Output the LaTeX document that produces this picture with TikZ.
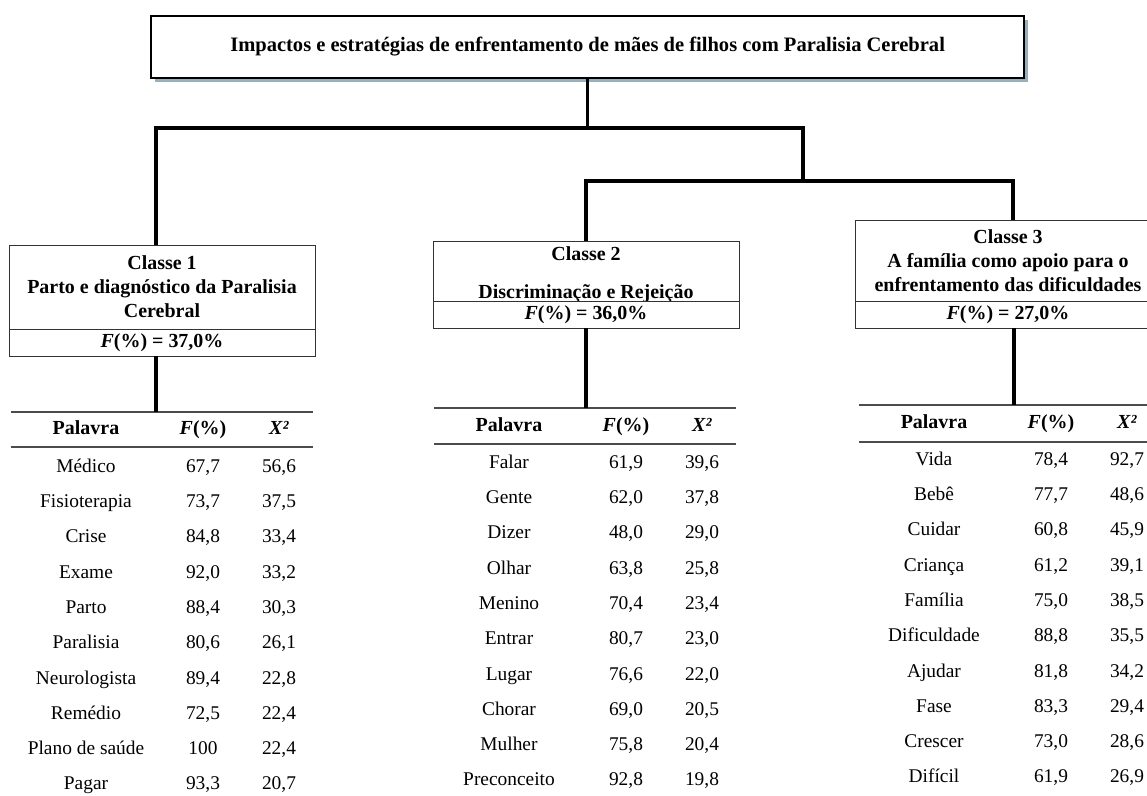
\documentclass[tikz,border=0pt]{standalone}
\usepackage{fontspec}
\setmainfont{Liberation Serif}
\usepackage{tikz}
\usepackage{xcolor}
\usetikzlibrary{positioning}
\usetikzlibrary{shadows}
\definecolor{shadowgray}{HTML}{9BAFBB}
\tikzstyle{titlebox} = [rectangle, minimum width=21.83cm, minimum height=1.55cm, text centered, draw=black, line width=1.3pt, fill=white, font=\bfseries\fontsize{14.6}{17}\selectfont, drop shadow={shadow xshift=0.1cm, shadow yshift=-0.1cm, fill=shadowgray, opacity=1}]
\tikzstyle{classbox} = [rectangle, minimum width=7.65cm, inner ysep=0pt, outer sep=0pt, align=center, draw=black!80, line width=0.7pt, fill=white, font=\bfseries\fontsize{14.2}{17}\selectfont]
\tikzstyle{freqbox} = [rectangle, minimum width=7.65cm, minimum height=0.675cm, inner ysep=0pt, outer sep=0pt, text centered, draw=black!80, line width=0.7pt, fill=white, font=\bfseries\fontsize{14.2}{17}\selectfont]
\tikzstyle{head} = [text height=1.6ex, text depth=.3ex, font=\bfseries\fontsize{14.2}{17}\selectfont]
\tikzstyle{cell} = [text height=1.6ex, text depth=.3ex, font=\fontsize{13.8}{16}\selectfont]
\tikzstyle{rule} = [draw=black!70, line width=1pt]
\tikzstyle{link} = [line width=2.6pt]

\begin{document}
\begin{tikzpicture}[node distance=1cm]
        \useasboundingbox (0,0) rectangle (28.675,-19.9);

        \node (title) [titlebox] at (14.69,-1.175) {Impactos e estratégias de enfrentamento de mães de filhos com Paralisia Cerebral};
        \node (c1) [classbox, minimum height=2.1cm, below of=title, xshift=-10.64cm, yshift=-5cm] {Classe 1\\Parto e diagnóstico da Paralisia\\Cerebral};
        \node (c2) [classbox, minimum height=1.5cm, below of=title, xshift=-0.04cm, yshift=-4.6cm] {\smash{\raisebox{-19.5pt}{\begin{tabular}[b]{c}Classe 2\\[10pt]Discriminação e Rejeição\end{tabular}}}};
        \node (c3) [classbox, minimum height=2.025cm, below of=title, xshift=10.51cm, yshift=-4.3375cm] {Classe 3\\A família como apoio para o\\enfrentamento das dificuldades};
        \node (f1) [freqbox, below=0cm of c1] {\textit{F}(\%) = 37,0\%};
        \node (f2) [freqbox, below=0cm of c2] {\textit{F}(\%) = 36,0\%};
        \node (f3) [freqbox, below=0cm of c3] {\textit{F}(\%) = 27,0\%};

        % tree
        \coordinate (bar) at (14.69,-3.2);
        \coordinate (split) at (20.075,-4.525);
        \draw [link] (title.south) -- (bar);
        \draw [link] (bar) -| ([xshift=-0.15cm]c1.north);
        \draw [link] (bar) -| (split);
        \draw [link] (split) -| (c2.north);
        \draw [link] (split) -| ([xshift=0.125cm]c3.north);

        % table classe 1
        \coordinate (t1a) at (0.275,-10.3);
        \coordinate (t1b) at (7.825,-10.3);
        \coordinate (t1c) at (0.275,-11.175);
        \coordinate (t1d) at (7.825,-11.175);
        \draw [rule] (t1a) -- (t1b);
        \draw [rule] (t1c) -- (t1d);
        \draw [link] ([xshift=-0.15cm]f1.south) -- ([xshift=-0.15cm]f1.south |- t1a);
        \node (t1hw) [head] at (2.15,-10.7625) {Palavra};
        \node (t1hf) [head] at (5.075,-10.7625) {\textit{F}(\%)};
        \node (t1hx) [head] at (6.975,-10.7625) {\textit{X²}};
        \foreach \w/\f/\x [count=\i] in {Médico/{67,7}/{56,6}, Fisioterapia/{73,7}/{37,5}, Crise/{84,8}/{33,4}, Exame/{92,0}/{33,2}, Parto/{88,4}/{30,3}, Paralisia/{80,6}/{26,1}, Neurologista/{89,4}/{22,8}, Remédio/{72,5}/{22,4}, Plano de saúde/100/{22,4}, Pagar/{93,3}/{20,7}}
        {
            \node (t1w\i) [cell] at (2.15,{-11.7-0.8825*(\i-1)}) {\w};
            \node (t1f\i) [cell] at (5.075,{-11.7-0.8825*(\i-1)}) {\f};
            \node (t1x\i) [cell] at (6.975,{-11.7-0.8825*(\i-1)}) {\x};
        }

        % table classe 2
        \coordinate (t2a) at (10.85,-10.2);
        \coordinate (t2b) at (18.4,-10.2);
        \coordinate (t2c) at (10.85,-11.1);
        \coordinate (t2d) at (18.4,-11.1);
        \draw [rule] (t2a) -- (t2b);
        \draw [rule] (t2c) -- (t2d);
        \draw [link] (f2.south) -- (f2.south |- t2a);
        \node (t2hw) [head] at (12.725,-10.675) {Palavra};
        \node (t2hf) [head] at (15.65,-10.675) {\textit{F}(\%)};
        \node (t2hx) [head] at (17.55,-10.675) {\textit{X²}};
        \foreach \w/\f/\x [count=\i] in {Falar/{61,9}/{39,6}, Gente/{62,0}/{37,8}, Dizer/{48,0}/{29,0}, Olhar/{63,8}/{25,8}, Menino/{70,4}/{23,4}, Entrar/{80,7}/{23,0}, Lugar/{76,6}/{22,0}, Chorar/{69,0}/{20,5}, Mulher/{75,8}/{20,4}, Preconceito/{92,8}/{19,8}}
        {
            \node (t2w\i) [cell] at (12.725,{-11.6-0.8825*(\i-1)}) {\w};
            \node (t2f\i) [cell] at (15.65,{-11.6-0.8825*(\i-1)}) {\f};
            \node (t2x\i) [cell] at (17.55,{-11.6-0.8825*(\i-1)}) {\x};
        }

        % table classe 3
        \coordinate (t3a) at (21.475,-10.125);
        \coordinate (t3b) at (29.025,-10.125);
        \coordinate (t3c) at (21.475,-11.05);
        \coordinate (t3d) at (29.025,-11.05);
        \draw [rule] (t3a) -- (t3b);
        \draw [rule] (t3c) -- (t3d);
        \draw [link] ([xshift=0.15cm]f3.south) -- ([xshift=0.15cm]f3.south |- t3a);
        \node (t3hw) [head] at (23.35,-10.6) {Palavra};
        \node (t3hf) [head] at (26.275,-10.6) {\textit{F}(\%)};
        \node (t3hx) [head] at (28.175,-10.6) {\textit{X²}};
        \foreach \w/\f/\x [count=\i] in {Vida/{78,4}/{92,7}, Bebê/{77,7}/{48,6}, Cuidar/{60,8}/{45,9}, Criança/{61,2}/{39,1}, Família/{75,0}/{38,5}, Dificuldade/{88,8}/{35,5}, Ajudar/{81,8}/{34,2}, Fase/{83,3}/{29,4}, Crescer/{73,0}/{28,6}, Difícil/{61,9}/{26,9}}
        {
            \node (t3w\i) [cell] at (23.35,{-11.525-0.8825*(\i-1)}) {\w};
            \node (t3f\i) [cell] at (26.275,{-11.525-0.8825*(\i-1)}) {\f};
            \node (t3x\i) [cell] at (28.175,{-11.525-0.8825*(\i-1)}) {\x};
        }

    \end{tikzpicture}
\end{document}
